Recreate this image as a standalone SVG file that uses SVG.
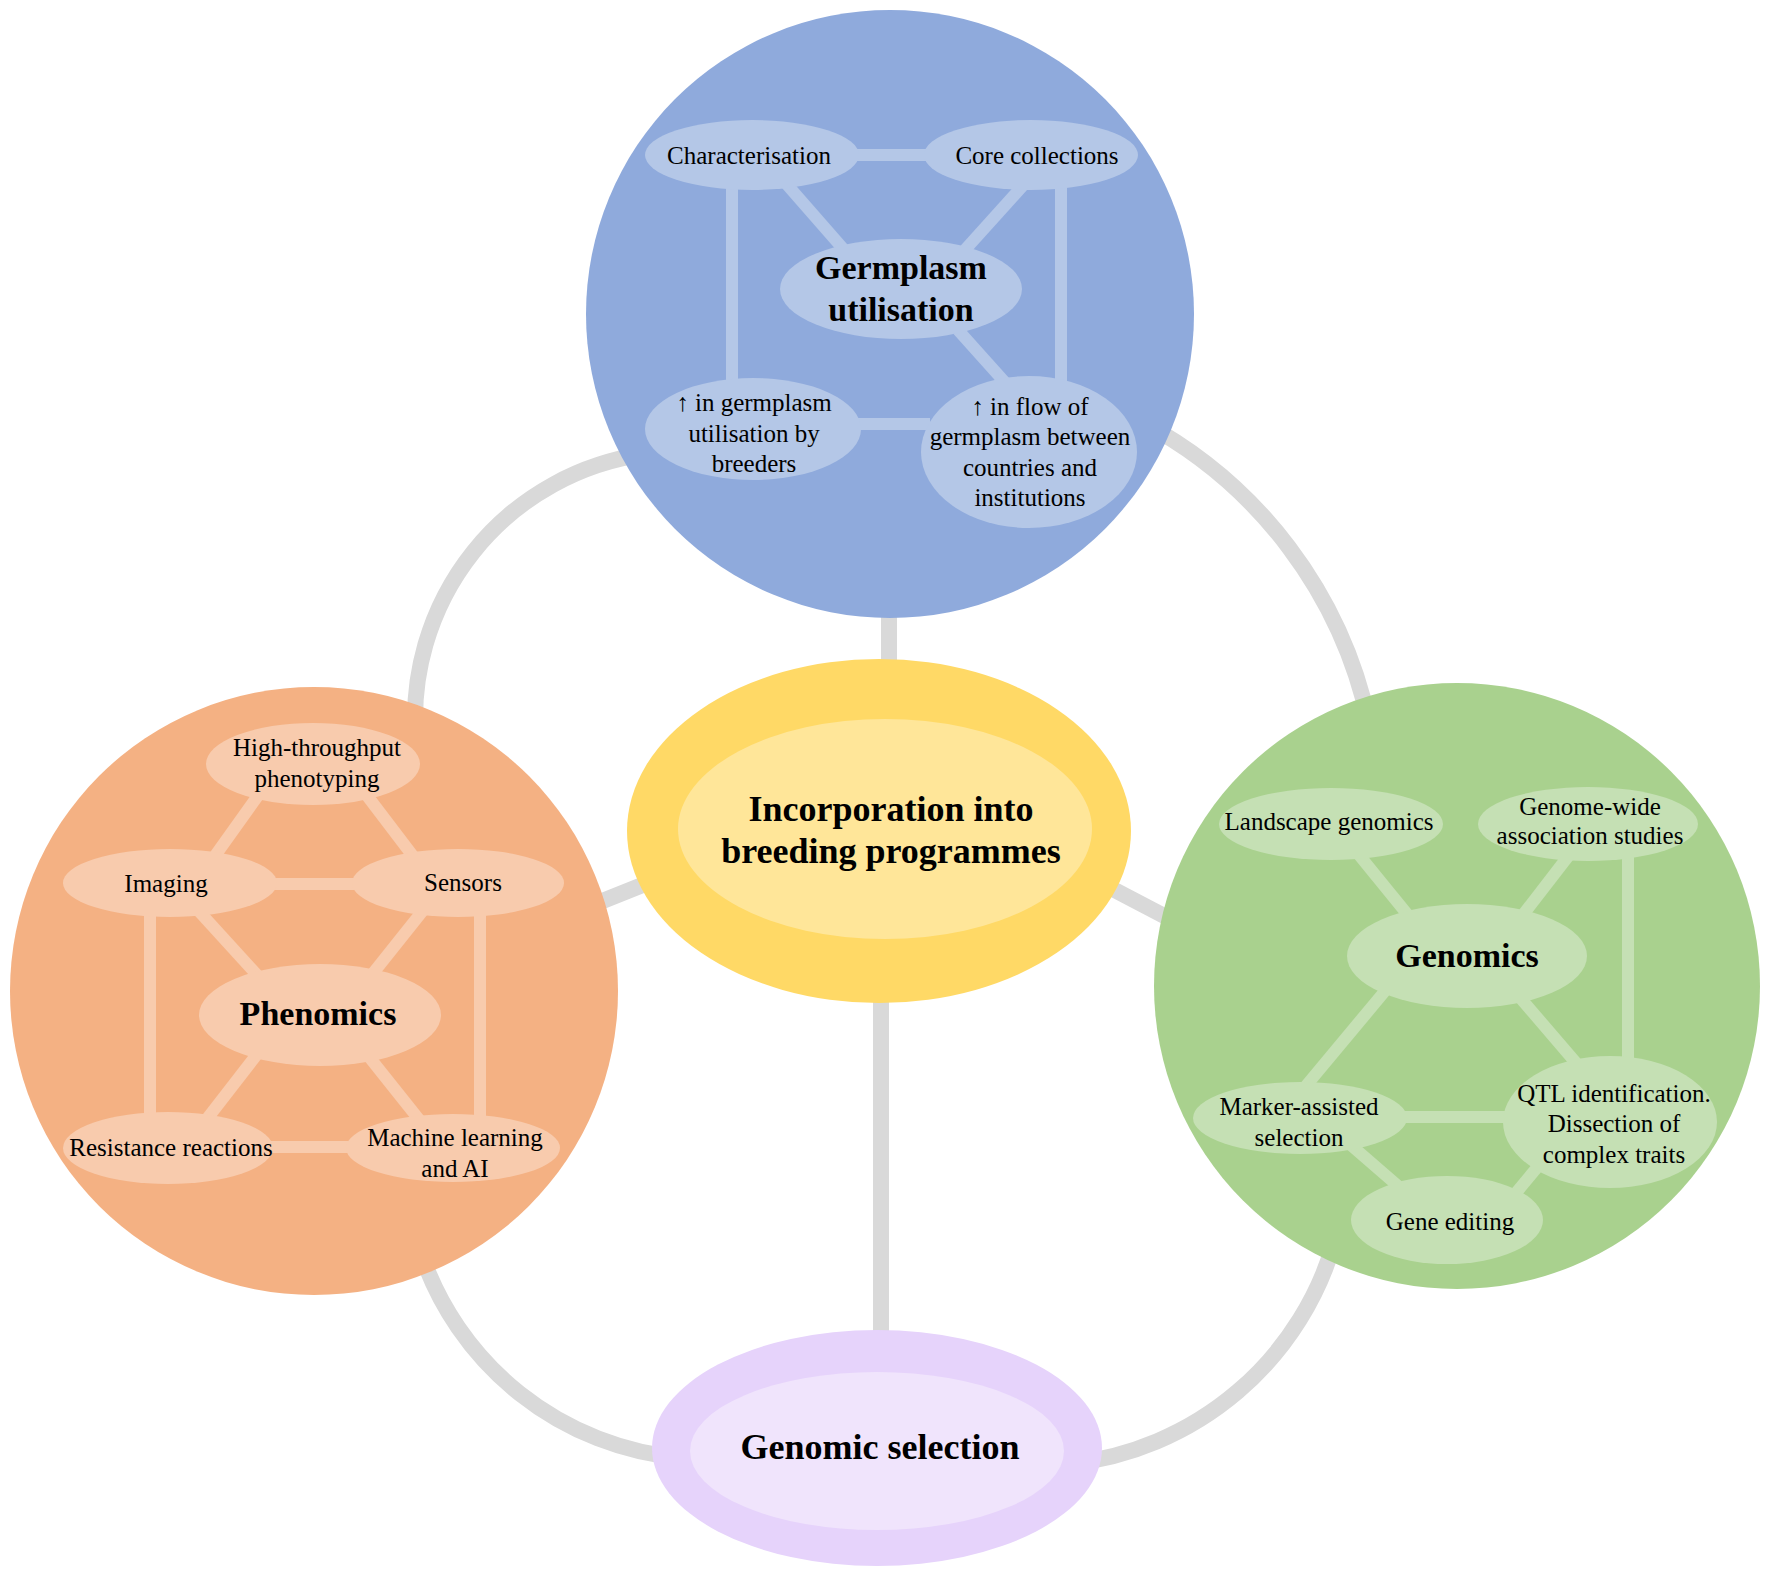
<svg xmlns="http://www.w3.org/2000/svg" width="1772" height="1570" viewBox="0 0 1772 1570">
<style>
text{font-family:"Liberation Serif","Times New Roman",serif;fill:#000;text-anchor:middle}
.s{font-size:25px}
.b{font-size:34px;font-weight:bold}
.bb{font-size:36px;font-weight:bold}
.gc{stroke:#d9d9d9;stroke-width:16;fill:none}
.lb{stroke:#b4c7e7;stroke-width:12;fill:none}
.lo{stroke:#f8cbad;stroke-width:12;fill:none}
.lg{stroke:#c5e0b4;stroke-width:12;fill:none}
.nb{fill:#b4c7e7}
.no{fill:#f8cbad}
.ng{fill:#c5e0b4}
</style>
<rect width="1772" height="1570" fill="#ffffff"/>
<g id="connectors">
<path class="gc" d="M 416,741 A 267 267 0 0 1 645,454"/>
<path class="gc" d="M 1142,422 A 446 446 0 0 1 1369,723"/>
<path class="gc" d="M 420,1250 A 303 303 0 0 0 682,1458"/>
<path class="gc" d="M 1336,1236 A 310 310 0 0 1 1069,1464"/>
<line class="gc" x1="889" y1="600" x2="889" y2="680"/>
<line class="gc" x1="881" y1="990" x2="881" y2="1345"/>
<line class="gc" x1="650" y1="882" x2="590" y2="906"/>
<line class="gc" x1="1105" y1="885" x2="1170" y2="919"/>
</g>
<g id="germplasm-circle"><circle cx="890" cy="314" r="304" fill="#8faadc"/></g>
<g id="phenomics-circle"><circle cx="314" cy="991" r="304" fill="#f4b183"/></g>
<g id="genomics-circle"><circle cx="1457" cy="986" r="303" fill="#a9d18e"/></g>
<g id="inner-connectors">
<line class="lb" x1="850" y1="155" x2="930" y2="155"/>
<line class="lb" x1="732" y1="175" x2="732" y2="395"/>
<line class="lb" x1="1061" y1="175" x2="1061" y2="395"/>
<line class="lb" x1="783" y1="180" x2="846" y2="252"/>
<line class="lb" x1="1028" y1="180" x2="963" y2="252"/>
<line class="lb" x1="958" y1="330" x2="1010" y2="388"/>
<line class="lb" x1="850" y1="424" x2="930" y2="424"/>
<line class="lo" x1="262" y1="790" x2="212" y2="860"/>
<line class="lo" x1="362" y1="789" x2="416" y2="860"/>
<line class="lo" x1="270" y1="884" x2="360" y2="884"/>
<line class="lo" x1="196" y1="908" x2="258" y2="976"/>
<line class="lo" x1="425" y1="908" x2="370" y2="977"/>
<line class="lo" x1="150" y1="900" x2="150" y2="1130"/>
<line class="lo" x1="480" y1="900" x2="480" y2="1130"/>
<line class="lo" x1="258" y1="1053" x2="203" y2="1124"/>
<line class="lo" x1="366" y1="1053" x2="421" y2="1122"/>
<line class="lo" x1="260" y1="1147" x2="360" y2="1147"/>
<line class="lg" x1="1628" y1="850" x2="1628" y2="1070"/>
<line class="lg" x1="1355" y1="850" x2="1412" y2="920"/>
<line class="lg" x1="1573" y1="850" x2="1519" y2="920"/>
<line class="lg" x1="1390" y1="985" x2="1300" y2="1093"/>
<line class="lg" x1="1517" y1="994" x2="1577" y2="1064"/>
<line class="lg" x1="1400" y1="1117" x2="1510" y2="1117"/>
<line class="lg" x1="1345" y1="1140" x2="1405" y2="1192"/>
<line class="lg" x1="1545" y1="1158" x2="1510" y2="1200"/>
</g>
<g id="characterisation"><ellipse class="nb" cx="752" cy="155" rx="107" ry="35"/><text class="s" x="749" y="164">Characterisation</text></g>
<g id="core-collections"><ellipse class="nb" cx="1031" cy="155" rx="107" ry="35"/><text class="s" x="1037" y="164">Core collections</text></g>
<g id="germplasm-utilisation"><ellipse class="nb" cx="901" cy="289" rx="121" ry="50"/><text class="b" x="901" y="279">Germplasm</text><text class="b" x="901" y="321">utilisation</text></g>
<g id="germplasm-breeders"><ellipse class="nb" cx="753" cy="429" rx="108" ry="51"/><text class="s" x="754" y="411">↑ in germplasm</text><text class="s" x="754" y="442">utilisation by</text><text class="s" x="754" y="472">breeders</text></g>
<g id="germplasm-flow"><ellipse class="nb" cx="1029" cy="452" rx="108" ry="76"/><text class="s" x="1030" y="415">↑ in flow of</text><text class="s" x="1030" y="445">germplasm between</text><text class="s" x="1030" y="476">countries and</text><text class="s" x="1030" y="506">institutions</text></g>
<g id="high-throughput"><ellipse class="no" cx="313" cy="764" rx="107" ry="41"/><text class="s" x="317" y="756">High-throughput</text><text class="s" x="317" y="787">phenotyping</text></g>
<g id="imaging"><ellipse class="no" cx="170" cy="883" rx="107" ry="34"/><text class="s" x="166" y="892">Imaging</text></g>
<g id="sensors"><ellipse class="no" cx="458" cy="883" rx="106" ry="34"/><text class="s" x="463" y="891">Sensors</text></g>
<g id="phenomics"><ellipse class="no" cx="320" cy="1015" rx="121" ry="51"/><text class="b" x="318" y="1025">Phenomics</text></g>
<g id="resistance"><ellipse class="no" cx="168" cy="1148" rx="105" ry="36"/><text class="s" x="171" y="1156">Resistance reactions</text></g>
<g id="machine-learning"><ellipse class="no" cx="453" cy="1148" rx="107" ry="34"/><text class="s" x="455" y="1146">Machine learning</text><text class="s" x="455" y="1177">and AI</text></g>
<g id="landscape"><ellipse class="ng" cx="1331" cy="824" rx="112" ry="36"/><text class="s" x="1329" y="830">Landscape genomics</text></g>
<g id="gwas"><ellipse class="ng" cx="1588" cy="824" rx="110" ry="37"/><text class="s" x="1590" y="815">Genome-wide</text><text class="s" x="1590" y="844">association studies</text></g>
<g id="genomics"><ellipse class="ng" cx="1467" cy="956" rx="120" ry="52"/><text class="b" x="1467" y="967">Genomics</text></g>
<g id="marker"><ellipse class="ng" cx="1300" cy="1118" rx="107" ry="36"/><text class="s" x="1299" y="1115">Marker-assisted</text><text class="s" x="1299" y="1146">selection</text></g>
<g id="qtl"><ellipse class="ng" cx="1610" cy="1122" rx="107" ry="66"/><text class="s" x="1614" y="1102">QTL identification.</text><text class="s" x="1614" y="1132">Dissection of</text><text class="s" x="1614" y="1163">complex traits</text></g>
<g id="gene-editing"><ellipse class="ng" cx="1447" cy="1220" rx="96" ry="44"/><text class="s" x="1450" y="1230">Gene editing</text></g>
<g id="incorporation"><ellipse cx="879" cy="831" rx="252" ry="172" fill="#ffd966"/><ellipse cx="885" cy="829" rx="207" ry="110" fill="#ffe699"/><text class="bb" x="891" y="821">Incorporation into</text><text class="bb" x="891" y="863">breeding programmes</text></g>
<g id="genomic-selection"><ellipse cx="877" cy="1448" rx="225" ry="118" fill="#e6d3fb"/><ellipse cx="877" cy="1451" rx="187" ry="79" fill="#f0e4fc"/><text class="bb" x="880" y="1459">Genomic selection</text></g>
</svg>
